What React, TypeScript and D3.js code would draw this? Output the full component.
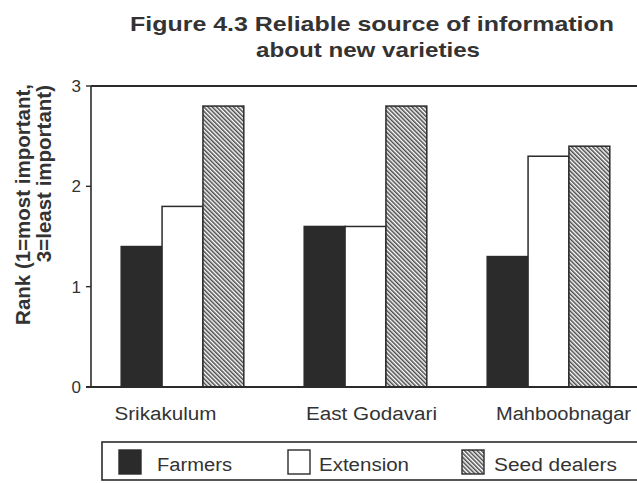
import React from "react";
import * as d3 from "d3";

// Districts along the x axis
const districts = ["Srikakulum", "East Godavari", "Mahboobnagar"];
// Information sources (one bar each per district)
const sources = ["Farmers", "Extension", "Seed dealers"];
// Mean rank per source, in district order
const farmers = [1.4, 1.6, 1.3];
const extension = [1.8, 1.6, 2.3];
const seedDealers = [2.8, 2.8, 2.4];
const yTicks = [0, 1, 2, 3];

const W = 637;
const H = 483;
const left = 91;
const top = 86;
const bottom = 387;
const ink = "#2b2b2b";
const textInk = "#333";
const font = "'Liberation Sans', Arial, sans-serif";

// Small horizontal nudges and stretched widths for the district labels
const labelShift = [-17, 6, 15];
const labelWidth = [102, 131, 135];

export default function App() {
  const values = [farmers, extension, seedDealers];

  const y = d3.scaleLinear().domain([0, 3]).range([bottom, top]);
  const x = d3
    .scaleBand<string>()
    .domain(districts)
    .range([left, 640])
    .paddingInner(0.33)
    .paddingOuter(0.165);
  const xs = d3.scaleBand<string>().domain(sources).range([0, x.bandwidth()]);

  const fillFor = (i: number) =>
    i === 0 ? ink : i === 1 ? "#fff" : "url(#hatch)";

  return (
    <svg
      width={W}
      height={H}
      viewBox={`0 0 ${W} ${H}`}
      style={{ position: "absolute", left: 0, top: 0, background: "#fff" }}
    >
      <defs>
        <pattern
          id="hatch"
          width={3}
          height={3}
          patternUnits="userSpaceOnUse"
          patternTransform="rotate(-45)"
        >
          <rect width={3} height={3} fill="#fff" />
          <line x1={0.8} y1={-1} x2={0.8} y2={4} stroke={ink} strokeWidth={1.3} />
        </pattern>
      </defs>

      {/* Title */}
      <g fontFamily={font} fontWeight="bold" fill={textInk} fontSize={21} textAnchor="middle">
        <text x={372} y={31} textLength={484} lengthAdjust="spacingAndGlyphs">
          Figure 4.3 Reliable source of information
        </text>
        <text x={368} y={57} textLength={224} lengthAdjust="spacingAndGlyphs">
          about new varieties
        </text>
      </g>

      {/* Y axis title */}
      <g fontFamily={font} fontWeight="bold" fill={textInk} fontSize={20.5} textAnchor="end">
        <text transform="rotate(-90)" x={-84} y={30}>
          Rank (1=most important,
        </text>
        <text transform="rotate(-90)" x={-85} y={51}>
          3=least important)
        </text>
      </g>

      {/* Bars */}
      {districts.map((d, di) => (
        <g key={d} transform={`translate(${x(d)},0)`}>
          {sources.map((s, si) => {
            const v = values[si][di];
            return (
              <rect
                key={s}
                x={xs(s)}
                y={y(v)}
                width={xs.bandwidth()}
                height={y(0) - y(v)}
                fill={fillFor(si)}
                stroke={ink}
                strokeWidth={1.5}
              />
            );
          })}
        </g>
      ))}

      {/* Frame: top line, left axis, baseline */}
      <line x1={left} x2={W} y1={top} y2={top} stroke={ink} strokeWidth={2.2} />
      <line x1={left} x2={left} y1={top} y2={bottom} stroke={ink} strokeWidth={1.6} />
      <line x1={left - 5} x2={W} y1={bottom} y2={bottom} stroke={ink} strokeWidth={1.8} />

      {/* Y ticks */}
      <g fontFamily={font} fill={textInk} fontSize={17} textAnchor="end">
        {yTicks.map((t) => (
          <g key={t}>
            <line x1={left - 5} x2={left} y1={y(t)} y2={y(t)} stroke={ink} strokeWidth={1.4} />
            <text x={left - 10} y={y(t)} dy="0.36em">
              {t}
            </text>
          </g>
        ))}
      </g>

      {/* District labels */}
      <g fontFamily={font} fill={textInk} fontSize={18} textAnchor="middle">
        {districts.map((d, i) => (
          <text
            key={d}
            x={(x(d) as number) + x.bandwidth() / 2 + labelShift[i]}
            y={420}
            textLength={labelWidth[i]}
            lengthAdjust="spacingAndGlyphs"
          >
            {d}
          </text>
        ))}
      </g>

      {/* Legend */}
      <rect x={102} y={442} width={560} height={38} fill="none" stroke={ink} strokeWidth={1.6} />
      <g fontFamily={font} fill={textInk} fontSize={18}>
        {sources.map((s, i) => {
          const sx = [119, 288, 462][i];
          const lx = [157, 319, 494][i];
          const lw = [75, 90, 123][i];
          return (
            <g key={s}>
              <rect
                x={sx}
                y={450}
                width={22}
                height={24}
                fill={fillFor(i)}
                stroke={ink}
                strokeWidth={1.4}
              />
              <text x={lx} y={471} textLength={lw} lengthAdjust="spacingAndGlyphs">
                {s}
              </text>
            </g>
          );
        })}
      </g>
    </svg>
  );
}
